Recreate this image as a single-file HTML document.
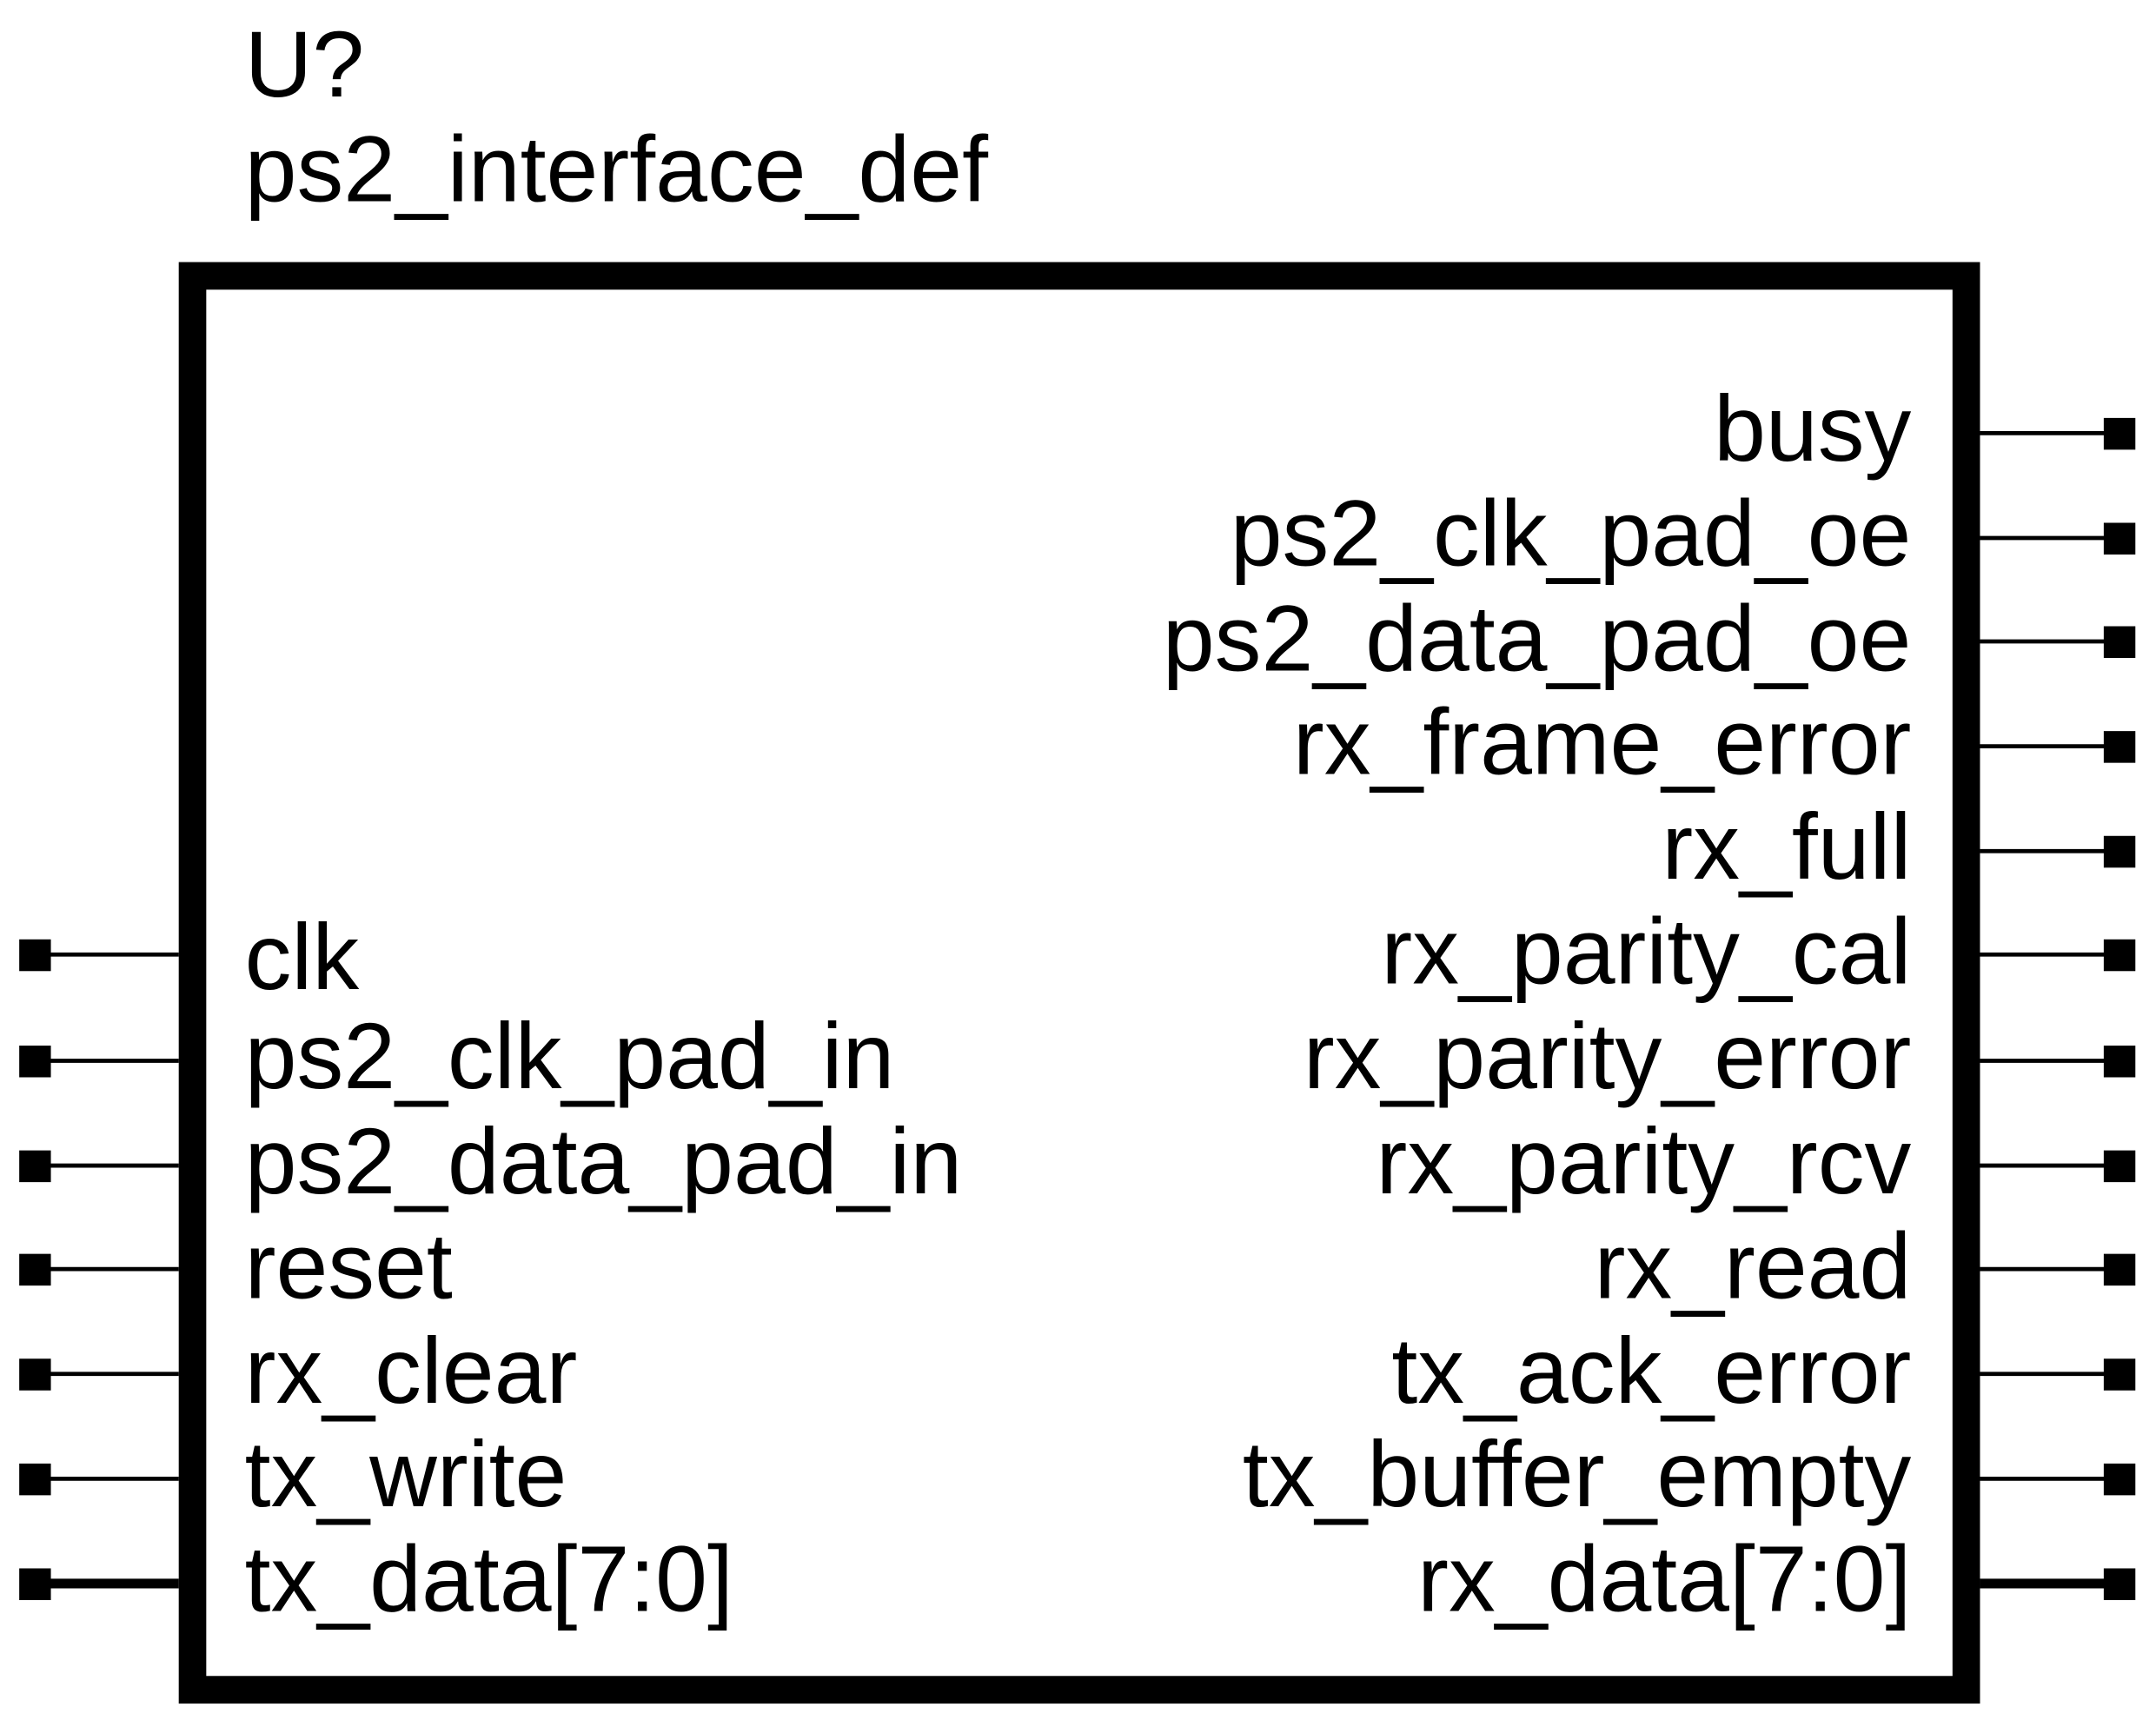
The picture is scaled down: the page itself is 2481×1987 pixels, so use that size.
<!DOCTYPE html>
<html><head><meta charset="utf-8"><style>
html,body{margin:0;padding:0;background:#fff;}
svg{display:block;}
text{font-family:"Liberation Sans",Arial,sans-serif;font-size:68px;fill:#000;}
</style></head><body>
<svg width="2481" height="1987" viewBox="0 0 1568 1252" preserveAspectRatio="none" xmlns="http://www.w3.org/2000/svg">
<text x="178" y="70">U?</text>
<text x="178" y="146">ps2_interface_def</text>
<rect x="140" y="200" width="1290" height="1025" fill="none" stroke="#000" stroke-width="20"/>
<g stroke="#000" stroke-width="3">
<line x1="25" y1="692" x2="130" y2="692"/>
<line x1="25" y1="769" x2="130" y2="769"/>
<line x1="25" y1="845" x2="130" y2="845"/>
<line x1="25" y1="920" x2="130" y2="920"/>
<line x1="25" y1="996" x2="130" y2="996"/>
<line x1="25" y1="1072" x2="130" y2="1072"/>
<line x1="25" y1="1148" x2="130" y2="1148" stroke-width="7"/>
<line x1="1440" y1="314" x2="1542" y2="314"/>
<line x1="1440" y1="390" x2="1542" y2="390"/>
<line x1="1440" y1="465" x2="1542" y2="465"/>
<line x1="1440" y1="541" x2="1542" y2="541"/>
<line x1="1440" y1="617" x2="1542" y2="617"/>
<line x1="1440" y1="692" x2="1542" y2="692"/>
<line x1="1440" y1="769" x2="1542" y2="769"/>
<line x1="1440" y1="845" x2="1542" y2="845"/>
<line x1="1440" y1="920" x2="1542" y2="920"/>
<line x1="1440" y1="996" x2="1542" y2="996"/>
<line x1="1440" y1="1072" x2="1542" y2="1072"/>
<line x1="1440" y1="1148" x2="1542" y2="1148" stroke-width="7"/>
</g>
<g fill="#000">
<rect x="14" y="681" width="23" height="23"/>
<rect x="14" y="758" width="23" height="23"/>
<rect x="14" y="834" width="23" height="23"/>
<rect x="14" y="909" width="23" height="23"/>
<rect x="14" y="985" width="23" height="23"/>
<rect x="14" y="1061" width="23" height="23"/>
<rect x="14" y="1137" width="23" height="23"/>
<rect x="1530" y="303" width="23" height="23"/>
<rect x="1530" y="379" width="23" height="23"/>
<rect x="1530" y="454" width="23" height="23"/>
<rect x="1530" y="530" width="23" height="23"/>
<rect x="1530" y="606" width="23" height="23"/>
<rect x="1530" y="681" width="23" height="23"/>
<rect x="1530" y="758" width="23" height="23"/>
<rect x="1530" y="834" width="23" height="23"/>
<rect x="1530" y="909" width="23" height="23"/>
<rect x="1530" y="985" width="23" height="23"/>
<rect x="1530" y="1061" width="23" height="23"/>
<rect x="1530" y="1137" width="23" height="23"/>
</g>
<g>
<text x="178" y="717">clk</text>
<text x="178" y="789">ps2_clk_pad_in</text>
<text x="178" y="865">ps2_data_pad_in</text>
<text x="178" y="941">reset</text>
<text x="178" y="1017">rx_clear</text>
<text x="178" y="1092">tx_write</text>
<text x="178" y="1168">tx_data[7:0]</text>
</g>
<g text-anchor="end">
<text x="1390" y="334">busy</text>
<text x="1390" y="410">ps2_clk_pad_oe</text>
<text x="1390" y="486">ps2_data_pad_oe</text>
<text x="1390" y="561">rx_frame_error</text>
<text x="1390" y="637">rx_full</text>
<text x="1390" y="713">rx_parity_cal</text>
<text x="1390" y="789">rx_parity_error</text>
<text x="1390" y="865">rx_parity_rcv</text>
<text x="1390" y="941">rx_read</text>
<text x="1390" y="1017">tx_ack_error</text>
<text x="1390" y="1092">tx_buffer_empty</text>
<text x="1390" y="1168">rx_data[7:0]</text>
</g>
</svg>
</body></html>
